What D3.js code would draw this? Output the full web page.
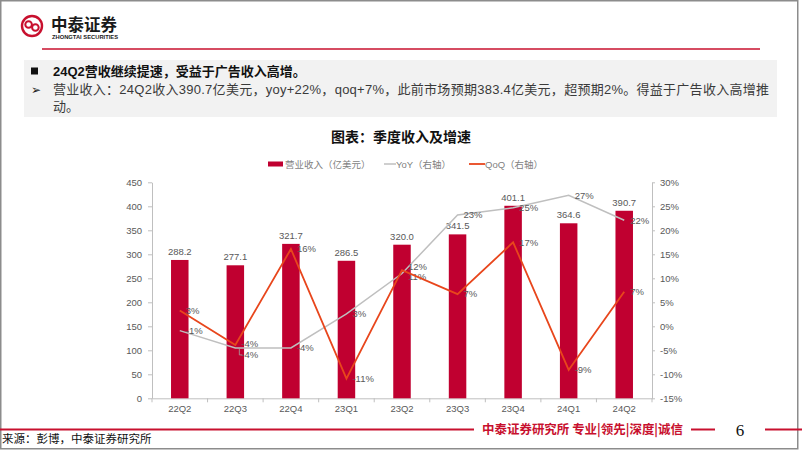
<!DOCTYPE html>
<html>
<head>
<meta charset="utf-8">
<script src="https://cdn.jsdelivr.net/npm/d3@7/dist/d3.min.js"></script>
<style>
  body { margin: 0; background: #fff; }
  svg { display: block; }
</style>
</head>
<body>
<div id="chart"></div>
<script>
// quarterly data
const QUARTERS = ["22Q2", "22Q3", "22Q4", "23Q1", "23Q2", "23Q3", "23Q4", "24Q1", "24Q2"];
const REVENUE  = [288.2, 277.1, 321.7, 286.5, 320.0, 341.5, 401.1, 364.6, 390.7];
const YOY      = [-0.9, -4.5, -4.5, 2.6, 11.0, 23.2, 24.7, 27.3, 22.1];
const QOQ      = [3.3, -3.9, 16.1, -10.9, 11.7, 6.7, 17.5, -9.1, 7.2];
const YOY_LABELS = ["-1%", "-4%", "-4%", "3%", "11%", "23%", "25%", "27%", "22%"];
const QOQ_LABELS = ["3%", "-4%", "16%", "-11%", "12%", "7%", "17%", "-9%", "7%"];
const LEFT_TICKS  = [0, 50, 100, 150, 200, 250, 300, 350, 400, 450];
const RIGHT_TICKS = [-15, -10, -5, 0, 5, 10, 15, 20, 25, 30];

const RED = "#c00030";
const ORANGE = "#e8461c";
const GREY_LINE = "#bfbfbf";
const TXT = "#595959";
const FONT = "'Liberation Sans', Arial, 'Noto Sans CJK SC', sans-serif";

var width = 802, height = 451;
var plot = {left: 152, right: 652, top: 182.3, bottom: 398.3};

var svg = d3.select("#chart")
  .append("svg")
  .attr("width", width)
  .attr("height", height)
  .style("font-family", FONT);

// ---- page frame + header ----
svg.append("rect")
  .attr("x", 0.75).attr("y", 0.75)
  .attr("width", 797).attr("height", 448)
  .attr("fill", "none")
  .attr("stroke", "#8c8c8c")
  .attr("stroke-width", 1.5);

var logo = svg.append("g");
logo.append("circle")
  .attr("cx", 32).attr("cy", 26).attr("r", 10)
  .attr("fill", "#fff").attr("stroke", "#c8102e").attr("stroke-width", 2.4);
logo.append("circle")
  .attr("cx", 28.6).attr("cy", 24.5).attr("r", 3.3)
  .attr("fill", "none").attr("stroke", "#c8102e").attr("stroke-width", 2);
logo.append("circle")
  .attr("cx", 35.4).attr("cy", 27.5).attr("r", 3.3)
  .attr("fill", "none").attr("stroke", "#c8102e").attr("stroke-width", 2);
logo.append("text")
  .attr("x", 51).attr("y", 31)
  .style("font-family", "'Noto Sans CJK SC', sans-serif")
  .style("font-size", "16.5px").style("font-weight", "bold")
  .attr("fill", "#1a1a1a")
  .text("中泰证券");
logo.append("text")
  .attr("x", 52).attr("y", 38.5)
  .attr("textLength", 66).attr("lengthAdjust", "spacingAndGlyphs")
  .style("font-size", "4.6px").style("font-weight", "bold")
  .attr("fill", "#1a1a1a")
  .text("ZHONGTAI SECURITIES");

svg.append("line")
  .attr("x1", 42).attr("x2", 760)
  .attr("y1", 49).attr("y2", 49)
  .attr("stroke", "#c8102e").attr("stroke-width", 1.5);

// ---- summary box ----
svg.append("rect")
  .attr("x", 24).attr("y", 60)
  .attr("width", 753).attr("height", 57)
  .attr("fill", "#f2f2f2");

svg.append("rect")
  .attr("x", 31).attr("y", 67.5)
  .attr("width", 7).attr("height", 7)
  .attr("fill", "#111");
svg.append("text")
  .attr("x", 53).attr("y", 76)
  .style("font-size", "13px").style("font-weight", "bold")
  .attr("fill", "#111")
  .text("24Q2营收继续提速，受益于广告收入高增。");

svg.append("text")
  .attr("x", 31).attr("y", 94)
  .style("font-size", "12px")
  .attr("fill", "#222")
  .text("➢");
svg.append("text")
  .attr("x", 53).attr("y", 94)
  .attr("textLength", 716).attr("lengthAdjust", "spacing")
  .style("font-size", "13px")
  .attr("fill", "#3a3a3a")
  .text("营业收入：24Q2收入390.7亿美元，yoy+22%，qoq+7%，此前市场预期383.4亿美元，超预期2%。得益于广告收入高增推");
svg.append("text")
  .attr("x", 53).attr("y", 111)
  .style("font-size", "13px")
  .attr("fill", "#3a3a3a")
  .text("动。");

// ---- chart title + legend ----
svg.append("text")
  .attr("x", 401).attr("y", 142)
  .style("text-anchor", "middle")
  .style("font-size", "14px").style("font-weight", "bold")
  .attr("fill", "#111")
  .text("图表：季度收入及增速");

var legend = svg.append("g")
  .style("font-size", "9.5px")
  .attr("fill", "#7f7f7f");
legend.append("rect")
  .attr("x", 268).attr("y", 161.5)
  .attr("width", 15).attr("height", 5)
  .attr("fill", RED);
legend.append("text").attr("x", 285).attr("y", 167.5).text("营业收入（亿美元）");
legend.append("line")
  .attr("x1", 384).attr("x2", 396).attr("y1", 164).attr("y2", 164)
  .attr("stroke", GREY_LINE).attr("stroke-width", 1.5);
legend.append("text").attr("x", 396).attr("y", 167.5).text("YoY（右轴）");
legend.append("line")
  .attr("x1", 469).attr("x2", 485).attr("y1", 164).attr("y2", 164)
  .attr("stroke", ORANGE).attr("stroke-width", 1.8);
legend.append("text").attr("x", 485).attr("y", 167.5).text("QoQ（右轴）");

// ---- scales ----
var x = d3.scaleBand()
  .domain(QUARTERS)
  .range([plot.left, plot.right])
  .paddingInner(0.685)
  .paddingOuter(0.3425);

var yL = d3.scaleLinear().domain([0, 450]).range([plot.bottom, plot.top]);
var yR = d3.scaleLinear().domain([-15, 30]).range([plot.bottom, plot.top]);

function cx(d) { return x(d) + x.bandwidth() / 2; }

function styleAxis(g)
{
  g.select(".domain").attr("stroke", GREY_LINE);
  g.selectAll(".tick line").attr("stroke", GREY_LINE);
  g.selectAll(".tick text")
    .attr("fill", TXT)
    .style("font-size", "9.5px")
    .style("font-family", FONT);
}

svg.append("g")
  .attr("transform", "translate(" + plot.left + ",0)")
  .call(d3.axisLeft(yL).tickValues(LEFT_TICKS).tickSize(4).tickPadding(6).tickSizeOuter(0))
  .call(styleAxis);

svg.append("g")
  .attr("transform", "translate(" + plot.right + ",0)")
  .call(d3.axisRight(yR).tickValues(RIGHT_TICKS).tickSize(3).tickPadding(5).tickSizeOuter(0)
    .tickFormat(function(d) { return d + "%"; }))
  .call(styleAxis);

var xAxis = svg.append("g")
  .attr("transform", "translate(0," + plot.bottom + ")")
  .call(d3.axisBottom(x).tickSize(0).tickPadding(6.5).tickSizeOuter(0))
  .call(styleAxis);

// tick marks sit between the categories
xAxis.selectAll(".sep")
  .data(d3.range(QUARTERS.length + 1))
  .enter()
  .append("line")
  .attr("x1", function(k) { return plot.left + k * x.step(); })
  .attr("x2", function(k) { return plot.left + k * x.step(); })
  .attr("y1", 0).attr("y2", 4)
  .attr("stroke", GREY_LINE);

// ---- bars ----
svg.append("g").selectAll("rect")
  .data(QUARTERS)
  .enter()
  .append("rect")
  .attr("x", function(d) { return x(d); })
  .attr("y", function(d, i) { return yL(REVENUE[i]); })
  .attr("width", x.bandwidth())
  .attr("height", function(d, i) { return yL(0) - yL(REVENUE[i]); })
  .attr("fill", RED);

svg.append("g").selectAll("text")
  .data(QUARTERS)
  .enter()
  .append("text")
  .attr("x", cx)
  .attr("y", function(d, i) { return yL(REVENUE[i]) - 5; })
  .style("text-anchor", "middle")
  .style("font-size", "9.5px")
  .attr("fill", TXT)
  .text(function(d, i) { return REVENUE[i].toFixed(1); });

// ---- lines ----
function drawSeries(values, labels, color, strokeW, nudge)
{
  var line = d3.line()
    .x(function(d, i) { return cx(QUARTERS[i]); })
    .y(function(d) { return yR(d); });

  svg.append("path")
    .datum(values)
    .attr("d", line)
    .attr("fill", "none")
    .attr("stroke", color)
    .attr("stroke-width", strokeW)
    .attr("stroke-linejoin", "miter");

  svg.append("g").selectAll("text")
    .data(values)
    .enter()
    .append("text")
    .attr("x", function(d, i) { return cx(QUARTERS[i]) + 6; })
    .attr("y", function(d, i) { return yR(d) + (nudge[QUARTERS[i]] || 0); })
    .attr("dy", "0.35em")
    .style("font-size", "9.5px")
    .attr("fill", TXT)
    .text(function(d, i) { return labels[i]; });
}

drawSeries(YOY, YOY_LABELS, GREY_LINE, 1.5, {"22Q3": 7, "23Q2": 3.5});
drawSeries(QOQ, QOQ_LABELS, ORANGE, 1.8, {"22Q3": -1.5, "23Q2": -3.5});

// leader for the pushed-down 22Q3 YoY label
var lx = cx("22Q3") + 4, ly = yR(YOY[1]);
svg.append("path")
  .attr("d", "M" + lx + "," + ly + "V" + (ly + 7) + "H" + (lx + 3))
  .attr("fill", "none")
  .attr("stroke", "#a6a6a6")
  .attr("stroke-width", 0.8);

// ---- footer ----
svg.append("line")
  .attr("x1", 0).attr("x2", 474)
  .attr("y1", 429.5).attr("y2", 429.5)
  .attr("stroke", "#c8102e").attr("stroke-width", 2);
svg.append("text")
  .attr("x", 482).attr("y", 434)
  .style("font-family", "'Noto Sans CJK SC', sans-serif")
  .style("font-size", "12.5px").style("font-weight", "bold")
  .attr("textLength", 201).attr("lengthAdjust", "spacingAndGlyphs")
  .attr("fill", "#c8102e")
  .text("中泰证券研究所 专业|领先|深度|诚信");
svg.append("line")
  .attr("x1", 691).attr("x2", 715)
  .attr("y1", 429.5).attr("y2", 429.5)
  .attr("stroke", "#c8102e").attr("stroke-width", 2);
svg.append("text")
  .attr("x", 740).attr("y", 436)
  .style("text-anchor", "middle")
  .style("font-family", "'Liberation Serif', 'DejaVu Serif', serif")
  .style("font-size", "17px")
  .attr("fill", "#111")
  .text("6");
svg.append("line")
  .attr("x1", 765).attr("x2", 802)
  .attr("y1", 429.5).attr("y2", 429.5)
  .attr("stroke", "#c8102e").attr("stroke-width", 2);

svg.append("text")
  .attr("x", 2).attr("y", 443)
  .style("font-size", "11.5px")
  .attr("fill", "#111")
  .text("来源：彭博，中泰证券研究所");
</script>
</body>
</html>
